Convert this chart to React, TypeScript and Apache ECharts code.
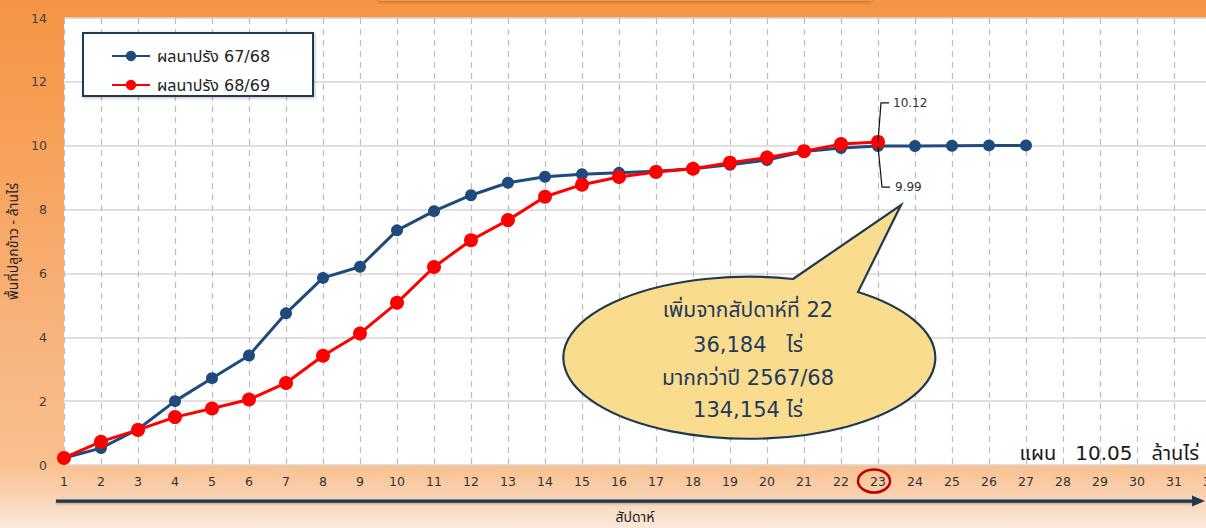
import React, { useEffect, useRef } from "react";
import * as echarts from "echarts";

const weekLabels = [1, 2, 3, 4, 5, 6, 7, 8, 9, 10, 11, 12, 13, 14, 15, 16, 17, 18, 19, 20, 21, 22, 23, 24, 25, 26, 27, 28, 29, 30, 31, 32];
const series6768Name = "ผลนาปรัง 67/68";
const series6869Name = "ผลนาปรัง 68/69";
const series6768 = [0.22, 0.53, 1.12, 2.0, 2.72, 3.43, 4.75, 5.86, 6.21, 7.35, 7.95, 8.45, 8.84, 9.03, 9.11, 9.15, 9.2, 9.28, 9.4, 9.55, 9.82, 9.93, 9.99, 9.99, 10.0, 10.01, 10.01];
const series6869 = [0.22, 0.73, 1.1, 1.5, 1.77, 2.05, 2.57, 3.42, 4.12, 5.08, 6.2, 7.04, 7.67, 8.4, 8.78, 9.02, 9.18, 9.28, 9.47, 9.63, 9.83, 10.05, 10.12];
const yTicks = [0, 2, 4, 6, 8, 10, 12, 14];
const yAxisName = "พื้นที่ปลูกข้าว - ล้านไร่";
const xAxisName = "สัปดาห์";
const calloutLines = ["เพิ่มจากสัปดาห์ที่ 22", "36,184   ไร่", "มากกว่าปี 2567/68", "134,154 ไร่"];
const planText = "แผน   10.05   ล้านไร่";
const highlightWeek = 23;

const FONT = "'DejaVu Sans', 'Noto Sans Thai', 'Noto Sans', sans-serif";
const NAVY = "#1F4A7E";
const RED = "#FF0000";

echarts.graphic.registerShape(
  "callout",
  echarts.graphic.extendPath("M793 279 L901 205 L858 292 A186 81 0 1 1 793 279 Z", {})
);

export default function App() {
  const ref = useRef<HTMLDivElement>(null);
  useEffect(() => {
    if (!ref.current) return;
    const chart = echarts.init(ref.current, null, { renderer: "svg" });
    const option: any = {
      animation: false,
      backgroundColor: "transparent",
      textStyle: { fontFamily: FONT },
      grid: {
        left: 64,
        top: 18,
        bottom: 63,
        width: 1147,
        show: true,
        backgroundColor: "#FFFFFF",
        borderWidth: 0,
        containLabel: false,
        outerBoundsMode: "none",
      },
      legend: {
        left: 106,
        top: 43,
        orient: "vertical",
        itemWidth: 38,
        itemHeight: 13,
        itemGap: 13,
        z: 20,
        textStyle: { fontSize: 16, color: "#222", fontFamily: FONT, padding: [0, 0, 0, 2] },
        data: [series6768Name, series6869Name],
      },
      xAxis: {
        type: "value",
        min: 1,
        max: 32,
        interval: 1,
        axisLine: { show: false },
        axisTick: { show: false },
        axisLabel: {
          color: "#333",
          fontSize: 12.5,
          margin: 10,
          fontFamily: FONT,
          formatter: (v: number) => String(weekLabels[v - 1] ?? v),
        },
        splitLine: { show: true, lineStyle: { color: "#BDBDBD", type: [6, 5], width: 1.2 } },
      },
      yAxis: {
        type: "value",
        min: yTicks[0],
        max: yTicks[yTicks.length - 1],
        interval: 2,
        axisLine: { show: false },
        axisTick: { show: false },
        axisLabel: { color: "#404040", fontSize: 12.5, margin: 17, fontFamily: FONT },
        splitLine: { show: true, lineStyle: { color: "#D6D6D6", width: 1.5 } },
        name: yAxisName,
        nameLocation: "middle",
        nameRotate: 90,
        nameGap: 42,
        nameTextStyle: { fontSize: 14, color: "#222", fontFamily: "'Noto Sans Thai', sans-serif" },
      },
      series: [
        {
          name: series6768Name,
          type: "line",
          data: series6768.map((v, i) => [weekLabels[i], v]),
          symbol: "circle",
          symbolSize: 12,
          lineStyle: { color: NAVY, width: 3 },
          itemStyle: { color: NAVY },
          z: 3,
        },
        {
          name: series6869Name,
          type: "line",
          data: series6869.map((v, i) => [weekLabels[i], v]),
          symbol: "circle",
          symbolSize: 14,
          lineStyle: { color: RED, width: 3 },
          itemStyle: { color: RED },
          z: 4,
        },
      ],
    };
    chart.setOption(option);

    const hi = highlightWeek - 1;
    const pr = chart.convertToPixel({ gridIndex: 0 }, [weekLabels[hi], series6869[hi]]) as number[];
    const pb = chart.convertToPixel({ gridIndex: 0 }, [weekLabels[hi], series6768[hi]]) as number[];
    const plotBottom = chart.convertToPixel({ gridIndex: 0 }, [1, 0]) as number[];

    const lx = pr[0];
    const graphic: any[] = [
      {
        type: "rect",
        shape: { x: 378, y: -30, width: 494, height: 31 },
        style: { fill: "#F5933F", shadowBlur: 3, shadowColor: "rgba(0,0,0,0.25)", shadowOffsetY: 1 },
        z: 1,
      },
      {
        type: "rect",
        shape: { x: 83, y: 33, width: 230, height: 63 },
        style: { fill: "#FFFFFF", stroke: "#1F3A55", lineWidth: 2, shadowBlur: 3, shadowColor: "rgba(0,0,0,0.25)", shadowOffsetX: 1, shadowOffsetY: 1 },
        z: 2,
      },
      {
        type: "polyline",
        shape: { points: [[pr[0], pr[1]], [lx + 3, pr[1] - 39], [lx + 11, pr[1] - 39]] },
        style: { stroke: "#111", lineWidth: 1.2, fill: null },
        z: 10,
      },
      {
        type: "text",
        style: { x: lx + 15, y: pr[1] - 39, text: "10.12", fontSize: 12, fill: "#333", fontFamily: FONT, verticalAlign: "middle" },
        z: 10,
      },
      {
        type: "polyline",
        shape: { points: [[pb[0], pb[1]], [lx + 4, pb[1] + 41], [lx + 12, pb[1] + 41]] },
        style: { stroke: "#111", lineWidth: 1.2, fill: null },
        z: 10,
      },
      {
        type: "text",
        style: { x: lx + 17, y: pb[1] + 41, text: "9.99", fontSize: 12, fill: "#333", fontFamily: FONT, verticalAlign: "middle" },
        z: 10,
      },
      {
        type: "callout",
        x: 0,
        y: 0,
        style: { fill: "#F9DC8E", stroke: "#1F3A50", lineWidth: 2.2 },
        z: 10,
      },
      ...calloutLines.map((t, i) => ({
        type: "text",
        style: {
          x: 748,
          y: [310, 345, 378, 410][i],
          text: t,
          fontSize: 21,
          fill: "#1F3A5A",
          fontFamily: FONT,
          align: "center",
          verticalAlign: "middle",
        },
        z: 11,
      })),
      {
        type: "text",
        style: { x: 1199, y: 453, text: planText, fontSize: 20, fill: "#1A1A1A", fontFamily: FONT, align: "right", verticalAlign: "middle" },
        z: 11,
      },
      {
        type: "ellipse",
        shape: { cx: lx - 4, cy: plotBottom[1] + 16, rx: 16, ry: 11.5 },
        style: { fill: null, stroke: "#C00000", lineWidth: 2.5 },
        z: 11,
      },
      {
        type: "rect",
        shape: { x: 56, y: 499.5, width: 1140, height: 3.2 },
        style: { fill: "#1F3A50", shadowBlur: 2, shadowColor: "rgba(0,0,0,0.3)", shadowOffsetY: 1 },
        z: 11,
      },
      {
        type: "polygon",
        shape: { points: [[1192, 495.5], [1205, 501], [1192, 506.5]] },
        style: { fill: "#1F3A50" },
        z: 11,
      },
      {
        type: "text",
        style: { x: 635, y: 517, text: xAxisName, fontSize: 14, fill: "#222", fontFamily: FONT, align: "center", verticalAlign: "middle" },
        z: 11,
      },
    ];
    chart.setOption({ graphic });
    return () => chart.dispose();
  }, []);

  return (
    <div
      ref={ref}
      style={{
        position: "fixed",
        left: 0,
        top: 0,
        width: 1206,
        height: 528,
        background:
          "linear-gradient(to bottom, #F59443 0%, #F7A25C 30%, #F8B47D 65%, #F9C08F 88%, #FAD2B3 94%, #FCE9DC 100%)",
      }}
    />
  );
}
